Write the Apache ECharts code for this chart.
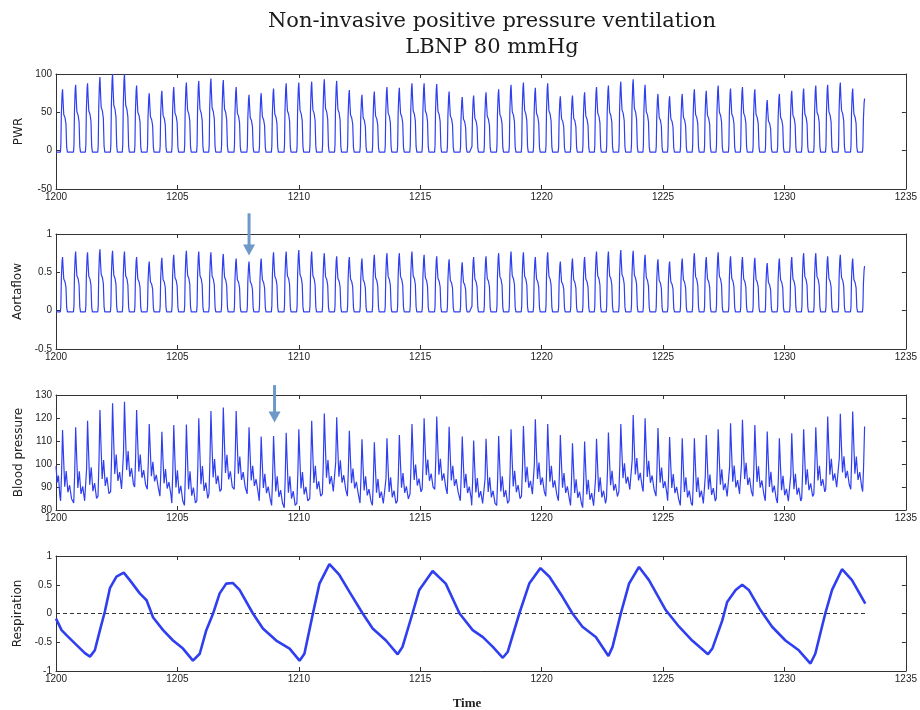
<!DOCTYPE html>
<html>
<head>
<meta charset="utf-8">
<script src="https://cdn.jsdelivr.net/npm/echarts@6/dist/echarts.min.js"></script>
<style>
  html, body { margin: 0; padding: 0; background: #fff; }
  #main { width: 920px; height: 710px; }
</style>
</head>
<body>
<div id="main"></div>
<script>
// beat peak times (s)
var beatTimes = [1200.27, 1200.81, 1201.30, 1201.81, 1202.33, 1202.82, 1203.32, 1203.84, 1204.36, 1204.85,
  1205.37, 1205.88, 1206.38, 1206.89, 1207.42, 1207.95, 1208.45, 1208.96, 1209.48, 1210.00,
  1210.53, 1211.05, 1211.56, 1212.08, 1212.60, 1213.11, 1213.63, 1214.14, 1214.66, 1215.16,
  1215.68, 1216.19, 1216.73, 1217.20, 1217.71, 1218.23, 1218.74, 1219.25, 1219.74, 1220.25,
  1220.77, 1221.27, 1221.77, 1222.26, 1222.75, 1223.26, 1223.77, 1224.26, 1224.79, 1225.27,
  1225.79, 1226.29, 1226.78, 1227.27, 1227.78, 1228.27, 1228.78, 1229.29, 1229.79, 1230.30,
  1230.79, 1231.29, 1231.78, 1232.30, 1232.81, 1233.30];

var pwrPeaks = [80, 86, 88, 96, 100, 100, 85, 75, 78, 83, 89, 91, 94, 92, 83, 73, 75, 81, 88, 89,
  90, 93, 91, 79, 73, 77, 83, 82, 88, 88, 87, 77, 70, 72, 76, 80, 86, 89, 82, 88,
  71, 72, 76, 83, 85, 90, 93, 86, 74, 71, 74, 80, 78, 85, 81, 83, 80, 66, 74, 78,
  81, 85, 86, 89, 81, 68];

var aortaPeaks = [0.70, 0.77, 0.76, 0.80, 0.78, 0.77, 0.70, 0.64, 0.69, 0.73, 0.78, 0.77, 0.76, 0.74, 0.68, 0.64, 0.68, 0.76, 0.77, 0.79,
  0.77, 0.75, 0.71, 0.70, 0.68, 0.73, 0.75, 0.75, 0.77, 0.73, 0.71, 0.67, 0.63, 0.70, 0.71, 0.75, 0.77, 0.76, 0.70, 0.76,
  0.64, 0.68, 0.70, 0.77, 0.77, 0.79, 0.78, 0.73, 0.67, 0.64, 0.68, 0.75, 0.70, 0.76, 0.71, 0.70, 0.69, 0.62, 0.68, 0.70,
  0.75, 0.75, 0.71, 0.73, 0.68, 0.58];

var bpPeaks = [114.8, 116, 118.8, 123.5, 126.4, 127.1, 123.5, 117.4, 114, 117, 117.2, 119.9, 123, 124.6, 123, 116, 111.9, 112.2, 113.6, 115.1,
  118.8, 122, 120.3, 114.5, 110.7, 109.4, 111.2, 112.6, 117.4, 119.9, 120.6, 116.2, 112, 110.2, 111, 112.2, 115.1, 116.5, 119.4, 117.4,
  112.6, 109, 109.8, 111, 113.7, 117.4, 121.3, 119.9, 115.6, 111.7, 111.2, 111.2, 112.6, 115.1, 117.7, 119.2, 117, 114.1, 111.2, 113.4,
  115.1, 116, 120.6, 121.8, 122.8, 116.3];

// diastolic foot before each upstroke
var bpFeet = [84, 83, 84, 86, 88, 90, 90, 89, 86, 83, 82, 84, 87, 89, 89, 87, 84, 82, 81, 83,
  85, 87, 88, 86, 83, 82, 82, 84, 87, 89, 89, 87, 84, 82, 82, 82, 84, 86, 87, 86,
  84, 82, 81, 82, 85, 88, 89, 88, 86, 84, 82, 82, 83, 85, 86, 87, 86, 84, 83, 83,
  85, 87, 89, 90, 89, 88];

// one beat, as seen on the flow traces: offset from peak (s) and fraction of peak height
var flowShapeT = [-0.09, -0.07, -0.05, -0.02, 0, 0.025, 0.05, 0.1, 0.14, 0.17, 0.2, 0.3];
var flowShapeF = [0, 0.1, 0.6, 0.92, 1, 0.78, 0.6, 0.55, 0.45, 0.08, 0, 0];
// one beat of arterial pressure: offset from peak (s) and fraction of pulse pressure
var bpShapeT = [-0.08, -0.04, 0, 0.04, 0.09, 0.15, 0.22, 0.29, 0.37];
var bpShapeF = [0, 0.4, 1, 0.62, 0.2, 0.42, 0.12, 0.22, 0.03];
var bpLead = [[1200, 99], [1200.05, 92], [1200.1, 95], [1200.16, 86]];

var respTimes = [1200.0, 1200.23, 1200.44, 1200.85, 1201.19, 1201.4, 1201.6, 1201.81, 1202.01, 1202.22,
  1202.49, 1202.79, 1203.04, 1203.45, 1203.73, 1204.0, 1204.41, 1204.82, 1205.23, 1205.64,
  1205.92, 1206.19, 1206.47, 1206.74, 1207.01, 1207.29, 1207.56, 1208.11, 1208.52, 1209.07,
  1209.62, 1210.03, 1210.23, 1210.58, 1210.85, 1211.26, 1211.67, 1212.08, 1212.63, 1213.04,
  1213.59, 1214.07, 1214.27, 1214.68, 1214.96, 1215.51, 1216.05, 1216.62, 1217.16, 1217.58,
  1217.99, 1218.4, 1218.6, 1219.08, 1219.49, 1219.95, 1220.32, 1220.86, 1221.27, 1221.68,
  1222.23, 1222.75, 1222.92, 1223.26, 1223.6, 1224.01, 1224.42, 1225.11, 1225.66, 1226.2,
  1226.85, 1227.03, 1227.44, 1227.64, 1227.99, 1228.26, 1228.53, 1229.01, 1229.49, 1230.04,
  1230.59, 1231.07, 1231.27, 1231.68, 1231.96, 1232.37, 1232.78, 1233.33];
var respValues = [-0.09, -0.29, -0.38, -0.55, -0.69, -0.75, -0.64, -0.29, 0.03, 0.44,
  0.64, 0.71, 0.58, 0.35, 0.23, -0.07, -0.29, -0.47, -0.61, -0.82,
  -0.70, -0.29, 0.0, 0.35, 0.52, 0.53, 0.41, 0.0, -0.26, -0.47,
  -0.61, -0.82, -0.70, 0.0, 0.52, 0.86, 0.67, 0.38, 0.0, -0.26,
  -0.47, -0.71, -0.58, 0.0, 0.41, 0.74, 0.52, 0.0, -0.29, -0.41,
  -0.58, -0.77, -0.67, 0.0, 0.52, 0.79, 0.64, 0.29, 0.0, -0.23,
  -0.41, -0.74, -0.58, 0.0, 0.52, 0.81, 0.58, 0.06, -0.23, -0.47,
  -0.71, -0.61, -0.12, 0.2, 0.41, 0.5, 0.41, 0.06, -0.23, -0.47,
  -0.64, -0.87, -0.70, 0.0, 0.41, 0.77, 0.58, 0.17];

var zeroLineT = [1200, 1233.33];
var tEnd = 1233.32;

var panelNames = ['PWR', 'Aortaflow', 'Blood pressure', 'Respiration'];
var yMin = [-50, -0.5, 80, -1];
var yMax = [100, 1, 130, 1];
var yStep = [50, 0.5, 10, 0.5];

// arrows: [panel, time, from value, to value]
var arrows = [[1, 1207.95, 1.27, 0.72], [2, 1209.0, 134.3, 118]];

function buildBeats(base, peaks, shT, shF, lead) {
  var pts = lead.slice();
  beatTimes.forEach(function (t0, i) {
    var b = Array.isArray(base) ? base[i] : base;
    for (var k = 0; k < shT.length; k++) {
      var t = t0 + shT[k];
      if (t > tEnd) return;
      pts.push([t, b + shF[k] * (peaks[i] - b)]);
    }
  });
  return pts;
}

var pwrData = buildBeats(-2, pwrPeaks, flowShapeT, flowShapeF, [[1200, -2]]);
var aortaData = buildBeats(-0.015, aortaPeaks, flowShapeT, flowShapeF, [[1200, -0.015]]);
var bpData = buildBeats(bpFeet, bpPeaks, bpShapeT, bpShapeF, bpLead);
var respData = respTimes.map(function (t, i) { return [t, respValues[i]]; });

var gridTops = [74, 234, 395, 556];
var axisColor = '#333';
var labelFont = 'Liberation Sans';

var grids = [], xAxes = [], yAxes = [];
gridTops.forEach(function (top, g) {
  grids.push({ left: 56, top: top, width: 851, height: 115 });
  var xb = {
    type: 'value', gridIndex: g, min: 1200, max: 1235, interval: 5,
    axisLine: { show: true, onZero: false, lineStyle: { color: axisColor } },
    axisTick: { inside: true, length: 4, lineStyle: { color: axisColor } },
    axisLabel: { color: '#222', fontSize: 10, margin: 3, fontFamily: labelFont,
      formatter: function (v) { return String(v); } },
    splitLine: { show: false }
  };
  xAxes.push(xb);
  xAxes.push(Object.assign({}, xb, { position: 'top', axisLabel: { show: false } }));
  var yl = {
    type: 'value', gridIndex: g, min: yMin[g], max: yMax[g], interval: yStep[g],
    axisLine: { show: true, onZero: false, lineStyle: { color: axisColor } },
    axisTick: { inside: true, length: 4, lineStyle: { color: axisColor } },
    axisLabel: { color: '#222', fontSize: 10, margin: 4, fontFamily: labelFont },
    splitLine: { show: false },
    name: panelNames[g], nameLocation: 'middle', nameGap: 31,
    nameTextStyle: { fontFamily: 'DejaVu Sans', fontSize: 12, color: '#222' }
  };
  yAxes.push(yl);
  yAxes.push({
    type: 'value', gridIndex: g, min: yMin[g], max: yMax[g], interval: yStep[g], position: 'right',
    axisLine: { show: true, onZero: false, lineStyle: { color: axisColor } },
    axisTick: { inside: true, length: 4, lineStyle: { color: axisColor } },
    axisLabel: { show: false }, splitLine: { show: false }
  });
});

function trace(g, data, width) {
  return {
    type: 'line', xAxisIndex: 2 * g, yAxisIndex: 2 * g, data: data,
    showSymbol: false,
    lineStyle: { color: '#2f3ff0', width: width }
  };
}

var series = [
  trace(0, pwrData, 1.2),
  trace(1, aortaData, 1.2),
  trace(2, bpData, 1.2),
  {
    type: 'line', xAxisIndex: 6, yAxisIndex: 6, showSymbol: false,
    data: zeroLineT.map(function (t) { return [t, 0]; }),
    lineStyle: { color: '#333', width: 1, type: [4, 3] }
  },
  trace(3, respData, 2.6)
];

var myChart = echarts.init(document.getElementById('main'));
var option = {
  animation: false,
  backgroundColor: '#fff',
  title: [{
    text: 'Non-invasive positive pressure ventilation\nLBNP 80 mmHg',
    left: 487, top: 4, textAlign: 'center',
    textStyle: { fontFamily: 'DejaVu Serif', fontSize: 21, fontWeight: 'normal', color: '#1a1a1a', lineHeight: 26 }
  }, {
    text: 'Time', left: 462, top: 692, textAlign: 'center',
    textStyle: { fontFamily: 'Liberation Serif', fontSize: 13, fontWeight: 'bold', color: '#222' }
  }],
  grid: grids,
  xAxis: xAxes,
  yAxis: yAxes,
  series: series
};
myChart.setOption(option);

// arrows pointing at the weak beats
var arrowGfx = [];
arrows.forEach(function (a) {
  var ax = { xAxisIndex: 2 * a[0], yAxisIndex: 2 * a[0] };
  var p0 = myChart.convertToPixel(ax, [a[1], a[2]]);
  var p1 = myChart.convertToPixel(ax, [a[1], a[3]]);
  arrowGfx.push({
    type: 'line', shape: { x1: p0[0], y1: p0[1], x2: p1[0], y2: p1[1] - 9 },
    style: { stroke: '#6d98c8', lineWidth: 3 }, z: 10
  });
  arrowGfx.push({
    type: 'polygon', shape: { points: [[p1[0] - 6, p1[1] - 11], [p1[0] + 6, p1[1] - 11], [p1[0], p1[1]]] },
    style: { fill: '#6d98c8' }, z: 10
  });
});
myChart.setOption({ graphic: arrowGfx });
</script>
</body>
</html>
